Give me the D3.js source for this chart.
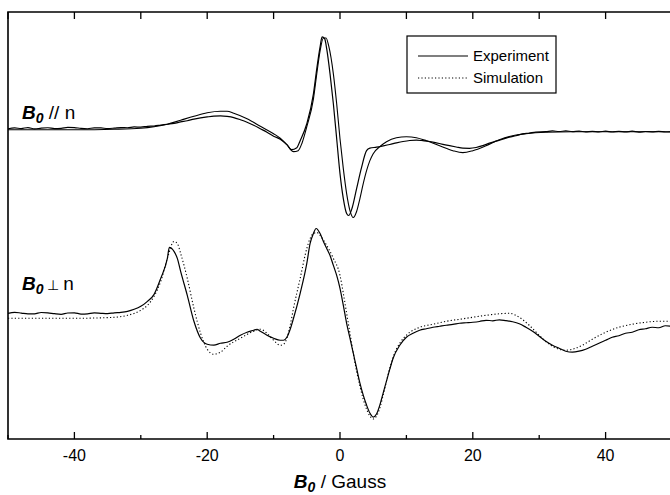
<!DOCTYPE html>
<html>
<head>
	<meta charset="utf-8">
	<title>EPR spectra - experiment vs simulation</title>
	<style>
		html, body { margin:0; padding:0; background:#fff; }
		body { font-family: "Liberation Sans", Arial, Helvetica, sans-serif; }
		.frame { fill:none; stroke:#000; stroke-width:1.6px; }
		.tick { stroke:#000; stroke-width:1.3px; }
		.ticklabel { font-size:16px; text-anchor:middle; }
		.exp { fill:none; stroke:#000; stroke-width:1.2px; stroke-linejoin:round; }
		.sim { fill:none; stroke:#000; stroke-width:1.1px; }
		.dot { stroke-dasharray:1.2,2.2; }
		.lab { font-size:19px; }
	</style>
	<script src="https://d3js.org/d3.v7.min.js"></script>
</head>
<body>
<svg id="chart"></svg>
<script>

	//field positions (Gauss) and intensities, relative to each spectrum's baseline
	var topExpG = [-50,-49,-48,-47,-46,-45,-44,-43,-42,-41,-40,-39,-38,-37,-36,-35,-34,-33,-32,-31,-30,-29,-28,-27,-26,-25,-24,-23,-22,-21,-20,-19,-18,-17,-16,-15,-14,-13,-12,-11,-10,-9,-8,-7.3,-6.5,-6,-5,-4,-3.5,-3,-2.7,-2.3,-2,-1.5,-1,-0.5,0,0.5,1,1.3,1.8,2.5,3.2,4,4.5,5.5,6.5,7.5,8.5,9.5,10.5,11.5,12.5,13.5,14.5,15.5,16.5,17.5,18.5,19.5,20.5,21.5,22.5,23.5,24.5,25.5,26.5,27.5,28.5,29.5,31,32,33,34,35,36,37,38,39,40,41,42,43,44,45,46,47,48,49,50];
	var topExpV = [0,0.8,0.2,1.2,-0.2,0.6,1,0.2,0.4,1.4,1.2,0.3,0,0.9,0.8,0.2,0.6,1.2,1,1.8,1.6,2.4,2.7,3.6,4.5,5.4,6.8,8,9.6,10.8,11.8,12.6,12.8,12.3,11.2,9,6.5,3.5,0,-3.5,-7.5,-10.5,-16,-21,-19,-12,5,35,60,82,92,90,80,55,25,-10,-45,-70,-85,-87,-80,-60,-40,-22,-19.5,-18.5,-17.2,-15.8,-14.2,-12.8,-11.8,-11.4,-12,-12.8,-14.2,-15.6,-17,-18.3,-19.5,-19.6,-18.8,-17,-14.5,-12.5,-10.5,-8.4,-7,-5.2,-4.4,-3.4,-3,-2.2,-2.8,-2.2,-2.9,-2.4,-3.2,-2.6,-3.1,-2.4,-3.3,-2.7,-3.2,-2.5,-3.4,-2.8,-3.1,-2.6,-3.3,-3];

	var topSimG = [-50,-40,-34,-30,-28,-26,-24,-22,-20,-18,-17,-16,-14,-12,-10,-9,-8,-7,-6.3,-5.7,-5,-4,-3.5,-3,-2.5,-2.1,-1.7,-1,-0.5,0,0.5,1,1.5,2,2.5,3,3.5,4,4.5,5,6,7,8.5,10,11.5,13,15,17,18.5,20,22,24,26,28,31,35,40,45,50];
	var topSimV = [-1,-1,-0.5,0.5,2,4.5,8.5,12.5,16,17.5,17.5,15.5,10,2.5,-5,-9.5,-16,-23,-22,-14,2,30,55,78,91,91,83,55,25,-10,-40,-65,-82,-89,-83,-70,-55,-42,-32,-25,-18,-13,-9,-8,-9,-12,-17,-22,-24,-22,-17,-11,-7,-5,-3.5,-3,-3,-3,-3];

	var botExpG = [-50,-49,-48,-47,-46,-45,-44,-43,-42,-41,-40,-39,-38,-37,-36,-35,-34,-33,-32,-31,-30,-29,-28,-27,-26,-25.7,-25,-24.5,-24,-23,-22,-21,-20,-19,-18,-17,-16,-15,-14,-13,-12.5,-12,-11,-10,-9,-8.5,-8,-7.5,-7,-6,-5,-4.5,-4,-3.6,-3,-2.5,-2,-1.5,-1,-0.5,0,0.5,1,1.5,2,2.5,3,3.5,4,4.5,5,5.5,6,6.5,7,7.5,8,9,10,11,12,13,14,15,16,17,18,19,20,21,22,23,24,25,26,27,28,29,30,31,32,33,34,35,36,37,38,39,40,41,42,43,44,45,46,47,48,49,50];
	var botExpV = [0,1,0.2,-0.6,-0.5,0.8,0.5,-0.4,-1,0.3,0.5,-0.8,-0.5,0.4,0,-0.3,0.5,1,2,4,7,12,19,35,55,66,62,55,42,18,-8,-25,-31,-32,-30,-29,-26,-22,-19,-17,-16,-18,-22,-25,-27,-27,-24,-16,-5,20,50,70,80,85,80,72,65,58,48,38,25,8,-10,-25,-40,-55,-70,-82,-92,-100,-104,-101,-92,-80,-68,-56,-45,-32,-24,-20,-17,-15.5,-14,-13,-12,-11.2,-10,-9.5,-9,-8.2,-7,-7.5,-6.5,-7.4,-8.5,-10.5,-14,-18,-23,-28,-32,-35,-38,-39,-38,-36,-33,-30,-27,-24,-22.5,-20,-19,-16.5,-15.5,-14,-14.5,-12.5,-13.2,-12];

	var botSimG = [-50,-40,-34,-32,-30,-29,-28,-27,-26,-25,-24.5,-24,-23,-22,-21,-20,-19,-18,-17,-15,-13,-12,-11,-10,-9,-8.5,-8,-7.5,-7,-6,-5,-4.5,-4,-3.5,-3,-2,-1,0,0.5,1,1.5,2,2.5,3,3.5,4,4.5,5,5.5,6,6.5,7,7.5,8,9,10,12,14,16,18,20,22,24,25.5,27,28.5,30,31.5,33,34,35,36.5,38,40,42,44,46,48,50];
	var botSimV = [-5,-5,-4,-2,3,8,17,32,55,72,70,60,35,5,-20,-36,-41,-39,-33,-25,-18,-16,-20,-27,-32,-31,-25,-12,5,35,65,75,80,81,78,68,55,38,20,0,-20,-40,-58,-73,-86,-96,-103,-106,-103,-95,-82,-68,-55,-44,-30,-22,-14,-11,-8,-6,-4,-2,-0.5,0,-4,-12,-22,-31,-36,-37,-36,-32,-26,-19,-14,-11,-9,-8,-8];

	//vertical offset of each spectrum (arbitrary units)
	var offsets = { top: 185, bottom: 0 };

	var xTicks = [-50,-40,-30,-20,-10,0,10,20,30,40,50];
	var xLabels = [-40,-20,0,20,40];
	var legendNames = ["Experiment","Simulation"];

	var W = 670, H = 495,
			pLeft = 8, pRight = 672, pTop = 12, pBottom = 439;

	var svg = d3.select("#chart").attr("width", W).attr("height", H);

	var x = d3.scaleLinear().domain([-50,50]).range([pLeft,pRight]);
	var y = d3.scaleLinear().domain([-126,302]).range([pBottom,pTop]);

	function pts(G,V,off){ return G.map(function(g,i){ return [g, V[i]+off]; }); }
	var line = d3.line().x(function(d){ return x(d[0]); }).y(function(d){ return y(d[1]); }).curve(d3.curveMonotoneX);

	var g = svg.append("g");

	//curves
	g.append("path").attr("class","sim").attr("d", line(pts(topSimG,topSimV,offsets.top)));
	g.append("path").attr("class","exp").attr("d", line(pts(topExpG,topExpV,offsets.top)));
	g.append("path").attr("class","sim dot").attr("d", line(pts(botSimG,botSimV,offsets.bottom)));
	g.append("path").attr("class","exp").attr("d", line(pts(botExpG,botExpV,offsets.bottom)));

	//frame (right side runs off the picture)
	g.append("path").attr("class","frame").attr("d", "M"+(W+2)+","+pTop+"H"+pLeft+"V"+pBottom+"H"+(W+2));

	//ticks bottom and top, pointing inward
	xTicks.forEach(function(t){
		var major = xLabels.indexOf(t) >= 0;
		g.append("line").attr("class","tick").attr("x1", x(t)).attr("x2", x(t))
				.attr("y1", pBottom).attr("y2", pBottom - (major ? 7 : 4));
		g.append("line").attr("class","tick").attr("x1", x(t)).attr("x2", x(t))
				.attr("y1", pTop).attr("y2", pTop + 7);
	});
	xLabels.forEach(function(t){
		g.append("text").attr("class","ticklabel").attr("x", x(t)).attr("y", pBottom + 22).text(t);
	});

	//axis title
	var at = g.append("text").attr("class","lab").attr("x", x(0)).attr("y", 488).style("text-anchor","middle");
	at.append("tspan").style("font-weight","bold").style("font-style","italic").text("B");
	at.append("tspan").style("font-weight","bold").style("font-style","italic").style("font-size","14px").attr("dy",4).text("0");
	at.append("tspan").attr("dy",-4).text(" / Gauss");

	//spectrum labels
	function specLabel(yy, sym, symSize){
		var t = g.append("text").attr("class","lab").attr("x", 22).attr("y", yy);
		t.append("tspan").style("font-weight","bold").style("font-style","italic").text("B");
		t.append("tspan").style("font-weight","bold").style("font-style","italic").style("font-size","14px").attr("dy",4).text("0");
		t.append("tspan").attr("dy",-4).style("font-size", symSize).text(" " + sym + " ");
		t.append("tspan").text("n");
	}
	specLabel(119, "//", "19px");
	specLabel(290, "\u22A5", "14px");

	//legend
	var lg = g.append("g");
	lg.append("rect").attr("x",407).attr("y",36).attr("width",149).attr("height",57)
			.style("fill","#fff").style("stroke","#000").style("stroke-width","1.2px");
	legendNames.forEach(function(n,i){
		var yy = 56 + i*22;
		lg.append("line").attr("class", i===0 ? "exp" : "sim dot").attr("x1",418).attr("x2",468).attr("y1",yy).attr("y2",yy);
		lg.append("text").attr("x",473).attr("y",yy+5).style("font-size","15px").text(n);
	});

</script>
</body>
</html>
